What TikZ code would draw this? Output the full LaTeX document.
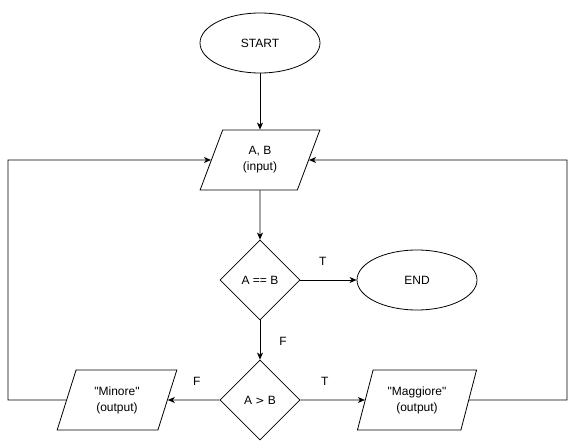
\documentclass[tikz,border=0pt]{standalone}
\usepackage{fontspec}
\setmainfont{Liberation Sans}[Ligatures=TeXOff]
\usetikzlibrary{shapes.geometric,arrows.meta}
\begin{document}
\begin{tikzpicture}[x=1pt,y=-1pt,
  every node/.style={font=\fontsize{12}{16}\selectfont},
  shp/.style={draw, line width=0.8pt, inner sep=0pt, align=center},
  term/.style={shp, ellipse, minimum width=120pt, minimum height=60pt},
  io/.style={shp, trapezium, trapezium left angle=69, trapezium right angle=111,
    trapezium stretches=true, minimum width=120pt, minimum height=60pt},
  dec/.style={shp, diamond, aspect=1, minimum width=80pt, minimum height=80pt},
  arr/.style={line width=0.8pt, -{Stealth[length=7pt,width=6pt,inset=2pt]}},
  ln/.style={line width=0.8pt},
  lbl/.style={inner sep=0pt}]
\useasboundingbox (0,0) rectangle (576,441);
\node[term] (start) at (260,43) {START};
\node[io] (in) at (260,160) {A, B\\(input)};
\node[dec] (d1) at (260,280) {A == B};
\node[term] (end) at (417,280) {END};
\node[dec] (d2) at (260,400) {A {\fontspec{DejaVu Sans}\fontsize{11}{14}\selectfont>} B};
\node[io] (min) at (117,400) {"Minore"\\(output)};
\node[io] (mag) at (417,400) {"Maggiore"\\(output)};
\coordinate (lc) at (8,400);
\coordinate (rc) at (567,400);
\draw[arr] (start) -- (in);
\draw[arr] (in) -- (d1);
\draw[arr] (d1) -- node[lbl, pos=0.4, yshift=19pt] (t1) {T} (end);
\draw[arr] (d1) -- node[lbl, pos=0.525, xshift=23pt] (f1) {F} (d2);
\draw[arr] (d2) -- node[lbl, pos=0.44, yshift=19pt] (f2) {F} (min.east);
\draw[arr] (d2) -- node[lbl, pos=0.38, yshift=19pt] (t2) {T} (mag.west);
\draw[arr] (min.west) -- (lc) |- (in.west);
\draw[arr] (mag.east) -- (rc) |- (in.east);
\end{tikzpicture}
\end{document}
